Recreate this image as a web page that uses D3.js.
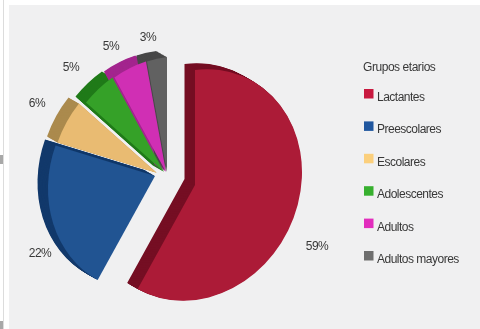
<!DOCTYPE html>
<html>
<head>
<meta charset="utf-8">
<style>
html,body{margin:0;padding:0;background:#fff;}
svg{display:block;}
#chart{will-change:transform;}
text{font-family:"Liberation Sans",Arial,sans-serif;fill:#383838;}
</style>
<script src="https://cdn.jsdelivr.net/npm/d3@7/dist/d3.min.js"></script>
</head>
<body>
<svg id="chart" width="480" height="329"></svg>
<script>
// Age groups and their share of cases
const groupNames = ["Lactantes","Preescolares","Escolares","Adolescentes","Adultos","Adultos mayores"];
const shares = [59,22,6,5,5,3];
const faceColors = ["#ac1b37","#215492","#e9bb72","#35a128","#d02fb4","#616161"];
const sideColors = ["#750e23","#12396b","#ab8a4d","#1f7a18","#a3258e","#484848"];
const legendColors = ["#c8193f","#20579f","#fbcf7c","#37b02f","#e22dbd","#6e6e6e"];
const legendTitle = "Grupos etarios";

// Wedge centres: the first two wedges are pulled away from the rest
const centreX = [195,155,157,164,166,167];
const centreY = [185,176,173,172,172,172];
const labelX = [317,40,37,71,111,148];
const labelY = [250,257,107,71,50,41];

const svg = d3.select("#chart");

// Backdrop panel and the thin rule along the left edge
svg.append("rect").attr("x",9).attr("y",5).attr("width",471).attr("height",324).attr("fill","#f0f0f1");
svg.append("rect").attr("x",3).attr("y",0).attr("width",1).attr("height",329).attr("fill","#dcdcdc");
svg.append("rect").attr("x",0).attr("y",155).attr("width",3).attr("height",9).attr("fill","#a8a8a8");
svg.append("rect").attr("x",0).attr("y",321).attr("width",3).attr("height",8).attr("fill","#a8a8a8");

const radius = 107;
const tilt = 1.075;   // vertical stretch of the disc
const shear = -0.12;  // the right side of the disc leans upward
const depthX = -10.5, depthY = -6;

const pie = d3.pie().sort(null).value(d => d)
  .startAngle(0).endAngle(2*Math.PI);
const arcs = pie(shares);
const arc = d3.arc().innerRadius(0).outerRadius(radius);
const place = (i,t) =>
  `matrix(1,${shear},0,${tilt},${centreX[i]+depthX*t},${centreY[i]+depthY*t})`;

// Extruded sides go down first, stepped from the back towards the face,
// so that every coloured face stays whole on top of them
const steps = d3.range(1,0,-1/14);
const sides = svg.append("g").selectAll("g").data(arcs).join("g");
sides.each(function(d,i){
  d3.select(this).selectAll("path").data(steps).join("path")
    .attr("d",arc(d))
    .attr("transform",t => place(i,t))
    .attr("fill",sideColors[i]);
});
svg.append("g").selectAll("path").data(arcs).join("path")
  .attr("d",arc)
  .attr("transform",(d,i)=>place(i,0))
  .attr("fill",(d,i)=>faceColors[i]);

const labels = svg.append("g");

// Percentage labels
labels.append("g").selectAll("text").data(shares).join("text")
  .attr("x",(d,i)=>labelX[i])
  .attr("y",(d,i)=>labelY[i])
  .attr("text-anchor","middle")
  .attr("font-size",12)
  .attr("letter-spacing",-0.5)
  .text(d=>d+"%");

// Legend
const legendY = d3.scalePoint().domain(groupNames).range([101,263]);
labels.append("text").attr("x",363).attr("y",71).attr("font-size",12)
  .attr("letter-spacing",-0.45).text(legendTitle);
const rows = labels.append("g").selectAll("g").data(groupNames).join("g")
  .attr("transform",d=>`translate(0,${legendY(d)})`);
rows.append("rect").attr("x",364).attr("y",-12).attr("width",9.5).attr("height",9.5)
  .attr("fill",(d,i)=>legendColors[i]);
rows.append("text").attr("x",377).attr("y",0).attr("font-size",12)
  .attr("letter-spacing",-0.5).text(d=>d);
</script>
</body>
</html>
